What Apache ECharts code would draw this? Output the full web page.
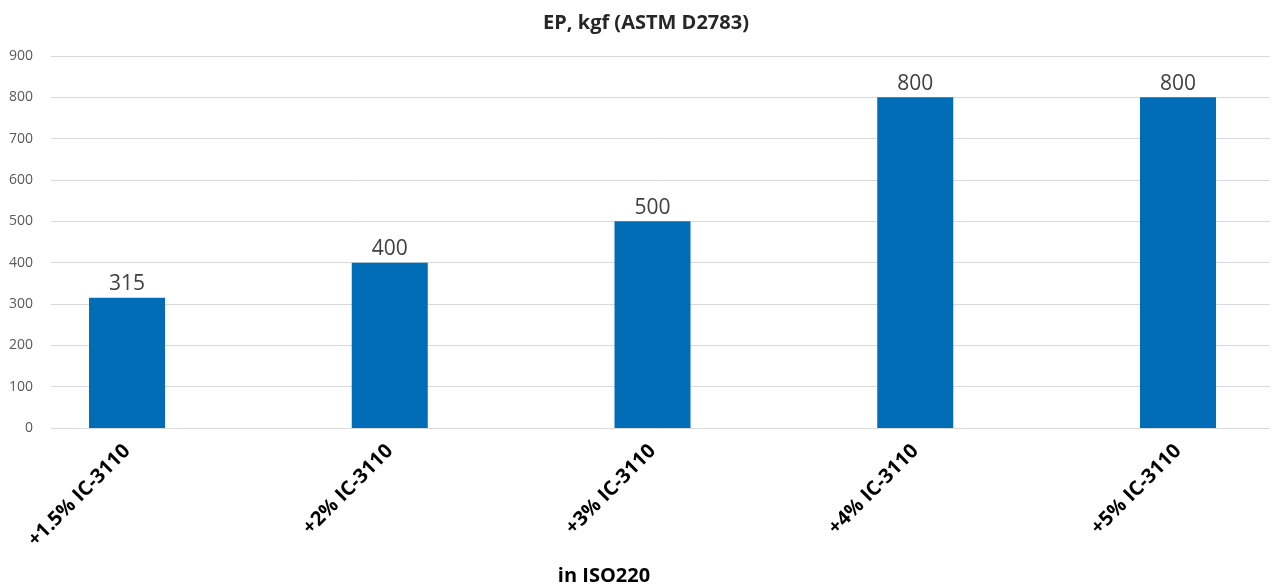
<!DOCTYPE html>
<html><head><meta charset="utf-8">
<script src="https://cdn.jsdelivr.net/npm/echarts@6/dist/echarts.min.js"></script>
<style>html,body{margin:0;padding:0;background:#fff}#c{width:1279px;height:584px}</style>
</head><body><div id="c"></div>
<script>
const categories = ['+1.5% IC-3110', '+2% IC-3110', '+3% IC-3110', '+4% IC-3110', '+5% IC-3110'];
const values = [315, 400, 500, 800, 800];
const yTicks = {min: 0, max: 900, interval: 100};
const titleText = 'EP, kgf (ASTM D2783)';
const xName = 'in ISO220';

const font = '"Open Sans", "Liberation Sans", sans-serif';
// category positions: centers at 127 + i*262.75 px, plot spans 51..1270
const xMin = (51 - 127) / 262.75;
const xMax = (1270 - 127) / 262.75;
const chart = echarts.init(document.getElementById('c'), null, {renderer: 'canvas'});
chart.setOption({
  animation: false,
  title: [
    {text: titleText, left: 641, top: 8, textAlign: 'center',
     textStyle: {fontFamily: font, fontSize: 20, fontWeight: 'bold', color: '#262626'}},
    {text: xName, left: 599, top: 561, textAlign: 'center',
     textStyle: {fontFamily: font, fontSize: 20, fontWeight: 'bold', color: '#000'}}
  ],
  grid: {left: 51, right: 9, top: 56, bottom: 156},
  xAxis: {
    type: 'value', min: xMin, max: xMax,
    axisLine: {show: false}, axisTick: {show: false}, splitLine: {show: false},
    axisLabel: {customValues: categories.map((c, i) => i), formatter: v => categories[Math.round(v)],
      rotate: 45, margin: 20, padding: [12, 0, 0, 0],
      fontFamily: font, fontSize: 20, fontWeight: 'bold', color: '#000'}
  },
  yAxis: {
    type: 'value', min: yTicks.min, max: yTicks.max, interval: yTicks.interval,
    axisLine: {show: false}, axisTick: {show: false},
    splitLine: {lineStyle: {color: '#d9d9d9', width: 1}},
    axisLabel: {margin: 18, fontFamily: font, fontSize: 14, color: '#595959'}
  },
  series: [{
    type: 'bar', data: values.map((v, i) => [i, v]), barWidth: 76,
    itemStyle: {color: '#006db6'},
    label: {show: true, position: 'top', distance: 3, fontFamily: font, fontSize: 21, color: '#404040'}
  }]
});
</script></body></html>
